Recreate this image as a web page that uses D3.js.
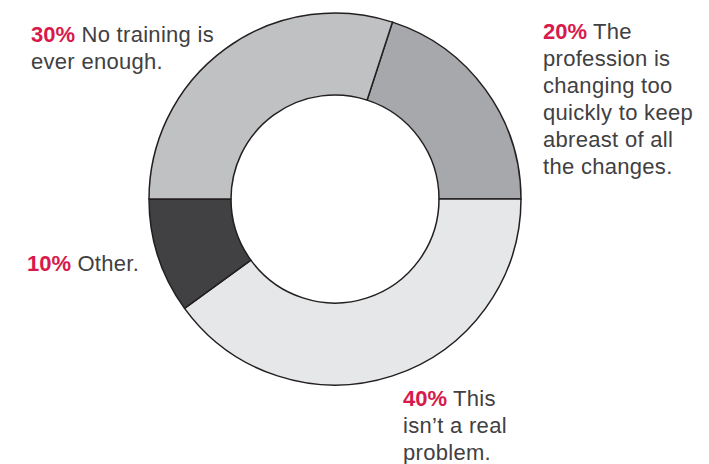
<!DOCTYPE html>
<html>
<head>
<meta charset="utf-8">
<script src="https://cdn.jsdelivr.net/npm/d3@7"></script>
<style>
  html, body { margin: 0; padding: 0; background: #ffffff; }
  svg { display: block; }
</style>
</head>
<body>
<svg id="chart" width="709" height="464"></svg>
<script>
// ---- data ----
const categories = [
  "The profession is changing too quickly to keep abreast of all the changes.",
  "This isn\u2019t a real problem.",
  "Other.",
  "No training is ever enough."
];
const values = [20, 40, 10, 30];
const percentLabels = ["20%", "40%", "10%", "30%"];
const labelLines = [
  ["The", "profession is", "changing too", "quickly to keep", "abreast of all", "the changes."],
  ["This", "isn\u2019t a real", "problem."],
  ["Other."],
  ["No training is", "ever enough."]
];
const sliceColors = ["#a7a8ab", "#e6e7e8", "#414042", "#c0c1c3"];

// ---- layout ----
const cx = 335, cy = 199, outerR = 186, innerR = 104;
const labelAnchors = [
  { x: 543, y: 39 },
  { x: 403, y: 406 },
  { x: 27, y: 271 },
  { x: 31, y: 42 }
];
const lineHeight = 27;

const svg = d3.select("#chart");
const g = svg.append("g").attr("transform", `translate(${cx},${cy})`);

const start = Math.PI / 10;
const pie = d3.pie().sort(null).value(d => d).startAngle(start).endAngle(start + 2 * Math.PI);
const arc = d3.arc().innerRadius(innerR).outerRadius(outerR);

g.selectAll("path.slice")
  .data(pie(values))
  .join("path")
  .attr("class", "slice")
  .attr("d", arc)
  .attr("fill", (d, i) => sliceColors[i])
  .attr("stroke", "#231f20")
  .attr("stroke-width", 1.5)
  .attr("stroke-linejoin", "round");

const labels = svg.selectAll("g.label")
  .data(categories)
  .join("g")
  .attr("class", "label");

labels.each(function(d, i) {
  const t = d3.select(this).append("text")
    .attr("x", labelAnchors[i].x)
    .attr("y", labelAnchors[i].y)
    .attr("font-family", "'Liberation Sans', Arial, Helvetica, sans-serif")
    .attr("font-size", 22)
    .attr("fill", "#414042");
  labelLines[i].forEach((line, j) => {
    if (j === 0) {
      t.append("tspan")
        .attr("x", labelAnchors[i].x)
        .attr("font-weight", "bold")
        .attr("fill", "#d7194c")
        .text(percentLabels[i]);
      t.append("tspan").attr("letter-spacing", 0.3).text(" " + line);
    } else {
      t.append("tspan")
        .attr("x", labelAnchors[i].x)
        .attr("dy", lineHeight)
        .attr("letter-spacing", 0.3)
        .text(line);
    }
  });
});
</script>
</body>
</html>
